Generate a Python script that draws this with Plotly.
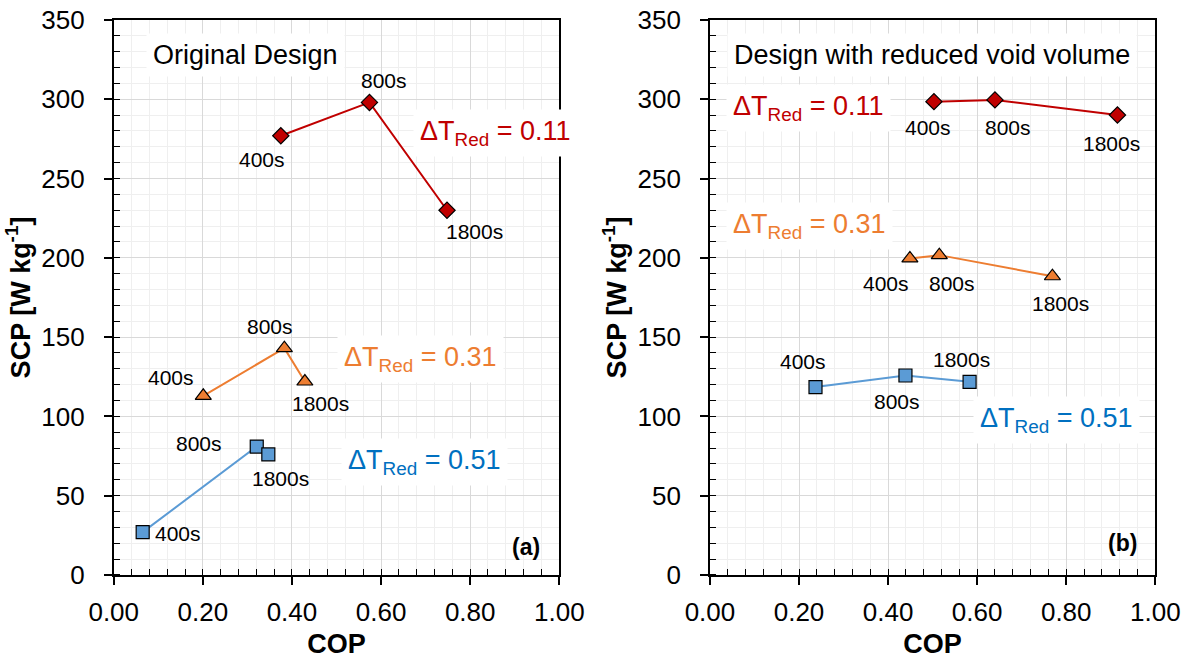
import plotly.graph_objects as go

# ---------------- data ----------------
time_labels = ["400s", "800s", "1800s"]

# (a) Original design
cop_a_011 = [0.375, 0.574, 0.748]
scp_a_011 = [277, 298, 230]
cop_a_031 = [0.201, 0.383, 0.429]
scp_a_031 = [113, 143, 122]
cop_a_051 = [0.065, 0.321, 0.347]
scp_a_051 = [27, 81, 76]

# (b) Design with reduced void volume
cop_b_011 = [0.503, 0.640, 0.915]
scp_b_011 = [298.5, 299.6, 290.1]
cop_b_031 = [0.449, 0.515, 0.769]
scp_b_031 = [199.6, 201.7, 188.4]
cop_b_051 = [0.237, 0.439, 0.583]
scp_b_051 = [118.5, 125.8, 121.8]

x_ticks = [0.0, 0.2, 0.4, 0.6, 0.8, 1.0]
y_ticks = [0, 50, 100, 150, 200, 250, 300, 350]

# ---------------- styles ----------------
RED, ORANGE, BLUE_M, BLUE_T = "#C00000", "#ED7D31", "#5B9BD5", "#0070C0"
FONT = "Liberation Sans, Arial, sans-serif"

fig = go.Figure()


def add_series(xs, ys, color, symbol, size, xa, ya):
    fig.add_trace(go.Scatter(
        x=xs, y=ys, mode="lines+markers", xaxis=xa, yaxis=ya,
        line=dict(color=color, width=2),
        marker=dict(symbol=symbol, size=size, color=color,
                    line=dict(color="black", width=1.2)),
        showlegend=False, hoverinfo="x+y"))


add_series(cop_a_011, scp_a_011, RED, "diamond", 12.5, "x", "y")
add_series(cop_a_031, scp_a_031, ORANGE, "triangle-up", 14, "x", "y")
add_series(cop_a_051, scp_a_051, BLUE_M, "square", 13, "x", "y")
add_series(cop_b_011, scp_b_011, RED, "diamond", 12.5, "x2", "y2")
add_series(cop_b_031, scp_b_031, ORANGE, "triangle-up", 14, "x2", "y2")
add_series(cop_b_051, scp_b_051, BLUE_M, "square", 13, "x2", "y2")

annotations = []


def point_labels(xs, ys, offsets, xr, yr):
    for lab, x, y, (dx, dy) in zip(time_labels, xs, ys, offsets):
        annotations.append(dict(
            x=x, y=y, xref=xr, yref=yr, text=lab, showarrow=False,
            xshift=dx, yshift=dy, font=dict(size=21, color="black", family=FONT)))


# label pixel offsets (dx right, dy up)
point_labels(cop_a_011, scp_a_011, [(-19, -24), (15, 22), (27, -21)], "x", "y")
point_labels(cop_a_031, scp_a_031, [(-32, 18), (-14, 22), (16, -22)], "x", "y")
point_labels(cop_a_051, scp_a_051, [(35, -1), (-58, 3), (12, -24)], "x", "y")
point_labels(cop_b_011, scp_b_011, [(-6, -26), (13, -28), (-6, -29)], "x2", "y2")
point_labels(cop_b_031, scp_b_031, [(-24, -25), (13, -28), (8, -27)], "x2", "y2")
point_labels(cop_b_051, scp_b_051, [(-12, 26), (-8, -26), (-8, 22)], "x2", "y2")


def box_text(x, y, xr, yr, text, color, size=27, bold=False, bg=True):
    t = f"<b>{text}</b>" if bold else text
    annotations.append(dict(
        x=x, y=y, xref=xr, yref=yr, text=t, showarrow=False,
        xanchor="center", yanchor="middle",
        bgcolor="white" if bg else "rgba(0,0,0,0)", borderpad=6,
        font=dict(size=size, color=color, family=FONT)))


dt = "ΔT<sub>Red</sub> = {}"
box_text(0.295, 328, "x", "y", "Original Design", "black")
box_text(0.857, 279, "x", "y", dt.format("0.11"), RED)
box_text(0.689, 136, "x", "y", dt.format("0.31"), ORANGE)
box_text(0.697, 71, "x", "y", dt.format("0.51"), BLUE_T)
box_text(0.925, 17.7, "x", "y", "(a)", "black", size=23, bold=True, bg=False)

box_text(0.498, 328, "x2", "y2", "Design with reduced void volume", "black")
box_text(0.221, 294.5, "x2", "y2", dt.format("0.11"), RED)
box_text(0.2246, 220, "x2", "y2", dt.format("0.31"), ORANGE)
box_text(0.779, 97.5, "x2", "y2", dt.format("0.51"), BLUE_T)
box_text(0.9266, 20, "x2", "y2", "(b)", "black", size=23, bold=True, bg=False)


def xaxis(domain, anchor):
    return dict(
        domain=domain, anchor=anchor, range=[0, 1], automargin=False,
        tickvals=x_ticks, ticktext=[f"{v:.2f}" for v in x_ticks],
        showline=True, linecolor="black", linewidth=1.7, mirror=True,
        ticks="outside", ticklen=8, tickwidth=1.5, tickcolor="black",
        showgrid=True, gridcolor="#d9d9d9", gridwidth=1, zeroline=False,
        minor=dict(dtick=0.04, ticks="inside", ticklen=6, tickwidth=1,
                   tickcolor="black", showgrid=True, gridcolor="#efefef", gridwidth=1),
        tickfont=dict(size=26, color="black", family=FONT),
        ticklabelstandoff=5,
        title=dict(text="<b>COP</b>", font=dict(size=27, color="black", family=FONT),
                   standoff=8))


def yaxis(domain, anchor):
    return dict(
        domain=domain, anchor=anchor, range=[0, 350], automargin=False,
        tickvals=y_ticks, ticktext=[str(v) for v in y_ticks],
        showline=True, linecolor="black", linewidth=1.7, mirror=True,
        ticks="outside", ticklen=8, tickwidth=1.5, tickcolor="black",
        showgrid=True, gridcolor="#d9d9d9", gridwidth=1, zeroline=False,
        minor=dict(dtick=10, ticks="inside", ticklen=6, tickwidth=1,
                   tickcolor="black", showgrid=True, gridcolor="#efefef", gridwidth=1),
        tickfont=dict(size=26, color="black", family=FONT),
        ticklabelstandoff=14,
        title=dict(text="<b>SCP [W kg<sup>-1</sup>]</b>",
                   font=dict(size=27, color="black", family=FONT), standoff=3))


YDOM = [0.1275, 0.9697]
fig.update_layout(
    width=1192, height=659,
    margin=dict(l=0, r=0, t=0, b=0),
    paper_bgcolor="white", plot_bgcolor="white",
    font=dict(family=FONT, color="black"),
    xaxis=xaxis([0.0954, 0.4692], "y"),
    yaxis=yaxis(YDOM, "x"),
    xaxis2=xaxis([0.5956, 0.9692], "y2"),
    yaxis2=yaxis(YDOM, "x2"),
    annotations=annotations,
)

fig.write_html("out.html")
